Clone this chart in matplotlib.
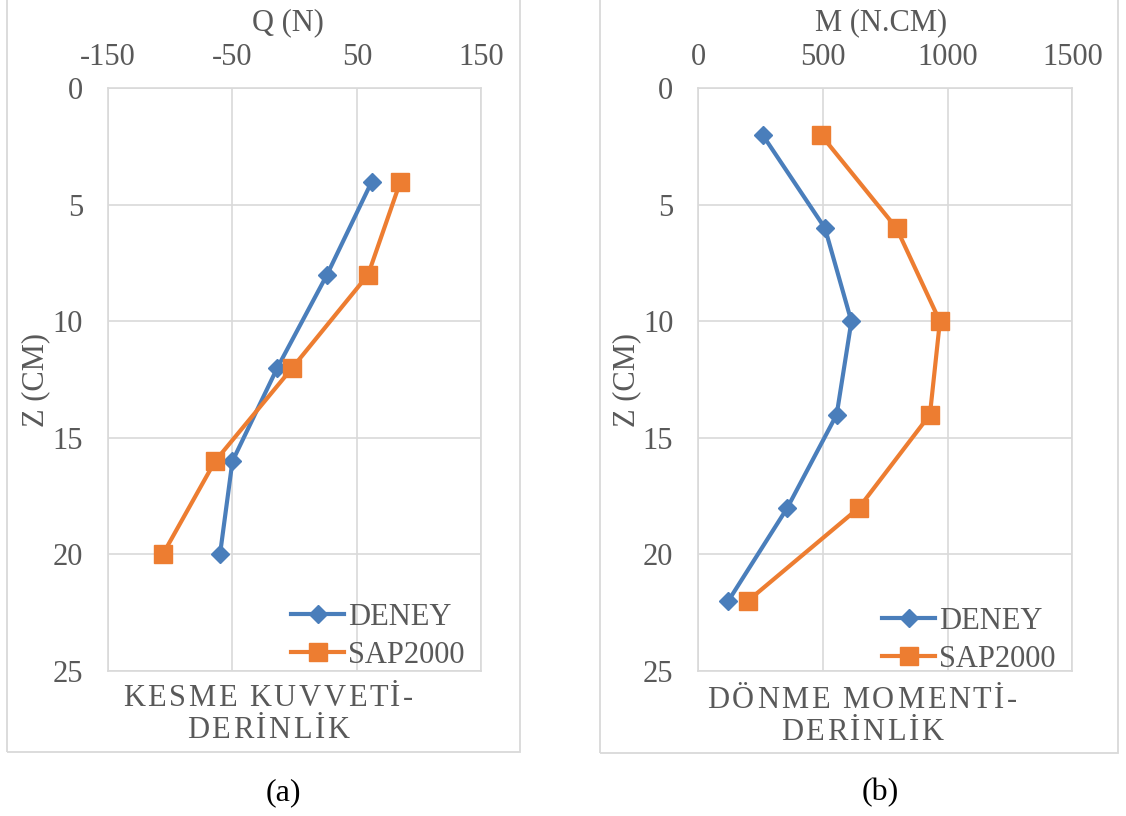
import matplotlib
matplotlib.use("Agg")
import matplotlib.pyplot as plt
from matplotlib.patches import Rectangle
from matplotlib.font_manager import FontProperties

# ---------------- data ----------------
depth_q = [4, 8, 12, 16, 20]
q_deney = [62, 26, -14, -50, -60]
q_sap = [85, 59, -2, -64, -106]

depth_m = [2, 6, 10, 14, 18, 22]
m_deney = [258, 508, 614, 555, 357, 120]
m_sap = [492, 795, 969, 929, 644, 198]

q_ticks = [-150, -50, 50, 150]
m_ticks = [0, 500, 1000, 1500]
z_ticks = [0, 5, 10, 15, 20, 25]

series_names = ["DENEY", "SAP2000"]
# ---------------------------------------

W, H = 1126, 816
plt.rcParams['font.family'] = ['Liberation Serif', 'DejaVu Serif']
plt.rcParams['axes.unicode_minus'] = False
fig = plt.figure(figsize=(W / 100, H / 100), dpi=100)
TXT = "#595959"
GRID = "#d9d9d9"
BLUE = "#4a7ebb"
ORANGE = "#ed7d31"
FS = 22


def fx(px):
    return px / W


def fy(py):
    return 1 - py / H


# outer chart boxes
for x0, x1, yb in [(7, 520, 752), (600, 1118, 753)]:
    fig.patches.append(Rectangle((fx(x0), fy(yb)), fx(x1) - fx(x0), fy(-5) - fy(yb),
                                 transform=fig.transFigure, fill=False,
                                 edgecolor=GRID, linewidth=1.3))


def make_ax(left_px, right_px, xticks):
    top, bot = 88.3, 671
    ax = fig.add_axes([fx(left_px), fy(bot), fx(right_px) - fx(left_px), fy(top) - fy(bot)])
    ax.set_xlim(xticks[0], xticks[-1])
    ax.set_ylim(25, 0)
    ax.set_xticks(xticks)
    ax.set_yticks(z_ticks)
    ax.xaxis.tick_top()
    ax.tick_params(length=0, labelsize=FS, labelcolor=TXT)
    ax.tick_params(axis='x', pad=12)
    ax.tick_params(axis='y', pad=18)
    ax.grid(True, color=GRID, linewidth=1.2)
    ax.set_axisbelow(True)
    for s in ax.spines.values():
        s.set_color(GRID)
        s.set_linewidth(1.2)
    return ax


LW = 3.0
axL = make_ax(108, 481.3, q_ticks)
axL.plot(q_deney, depth_q, color=BLUE, lw=LW, marker='D', ms=9, label=series_names[0], zorder=3)
axL.plot(q_sap, depth_q, color=ORANGE, lw=LW, marker='s', ms=12.5, label=series_names[1], zorder=3)

axR = make_ax(698.3, 1072.3, m_ticks)
axR.plot(m_deney, depth_m, color=BLUE, lw=LW, marker='D', ms=9, label=series_names[0], zorder=3)
axR.plot(m_sap, depth_m, color=ORANGE, lw=LW, marker='s', ms=12.5, label=series_names[1], zorder=3)

# axis titles
fig.text(fx(288), fy(23), "Q (N)", ha='center', va='center', fontsize=FS, color=TXT)
fig.text(fx(881), fy(23), "M (N.CM)", ha='center', va='center', fontsize=FS, color=TXT)
fig.text(fx(36), fy(380), "Z (CM)", ha='center', va='center', fontsize=FS, color=TXT, rotation=90)
fig.text(fx(627), fy(380), "Z (CM)", ha='center', va='center', fontsize=FS, color=TXT, rotation=90)

# legends
for ax, xpx, ypx in [(axL, 291, 603), (axR, 882, 607)]:
    leg = ax.legend(loc='upper left', bbox_to_anchor=(fx(xpx), fy(ypx)),
                    bbox_transform=fig.transFigure, frameon=False, fontsize=FS,
                    borderpad=0, borderaxespad=0, handlelength=1.75, handletextpad=0.12,
                    labelspacing=0.28)
    for t in leg.get_texts():
        t.set_color(TXT)

# letter-spaced titles
renderer = fig.canvas.get_renderer()
fp = FontProperties(family=['Liberation Serif', 'DejaVu Serif'], size=FS)


def spaced_text(s, cx, cy, spacing_px):
    widths = []
    for ch in s:
        w, h, d = renderer.get_text_width_height_descent(ch, fp, ismath=False)
        widths.append(w)
    total = sum(widths) + spacing_px * (len(s) - 1)
    x = cx - total / 2
    for ch, w in zip(s, widths):
        fig.text(fx(x), fy(cy), ch, ha='left', va='center', fontproperties=fp, color=TXT)
        x += w + spacing_px


spaced_text("KESME KUVVETİ-", 268, 699, 2.6)
spaced_text("DERİNLİK", 268, 731, 2.6)
spaced_text("DÖNME MOMENTİ-", 862, 701, 2.6)
spaced_text("DERİNLİK", 862, 733, 2.6)

# subfigure labels
fig.text(fx(283), fy(793), "(a)", ha='center', va='center', fontsize=23, color='black')
fig.text(fx(880), fy(793), "(b)", ha='center', va='center', fontsize=23, color='black')

fig.savefig("out.png", dpi=100)
